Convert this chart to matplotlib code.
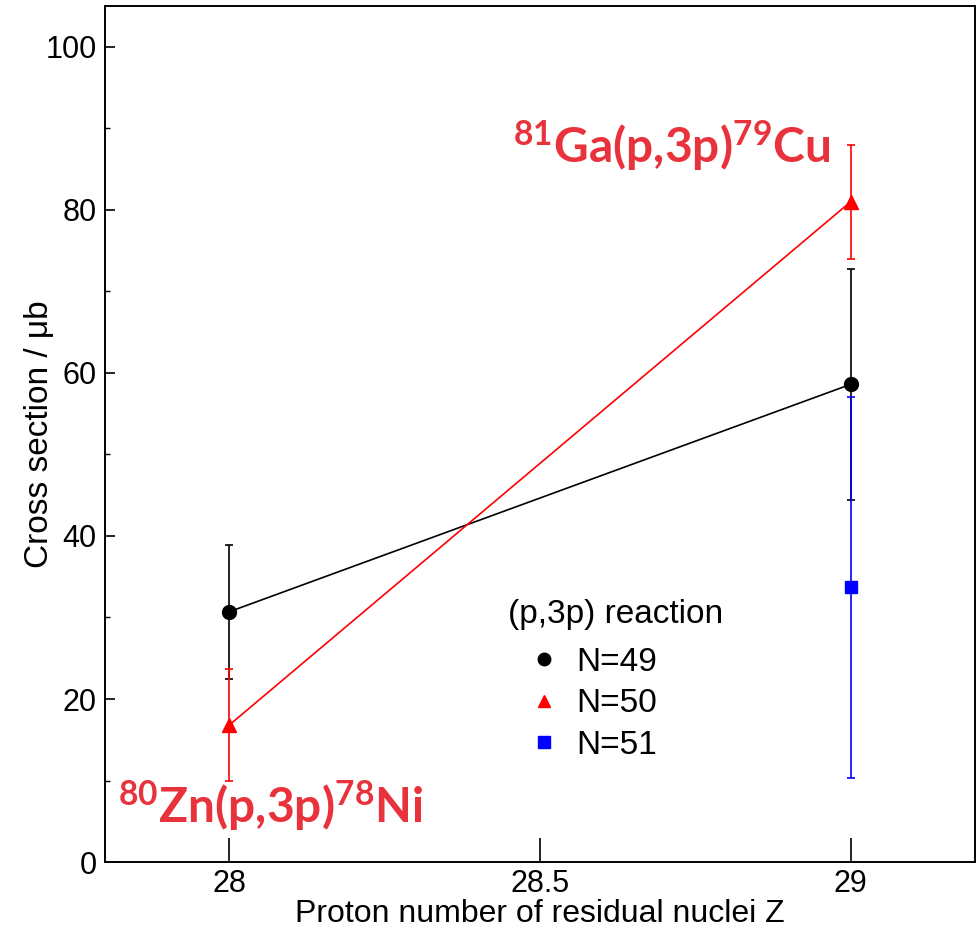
import matplotlib
matplotlib.use("Agg")
import matplotlib.pyplot as plt
from matplotlib.ticker import MultipleLocator

plt.rcParams['font.family'] = ['Liberation Sans', 'DejaVu Sans']
plt.rcParams['mathtext.fontset'] = 'custom'
plt.rcParams['mathtext.rm'] = 'Lato'
plt.rcParams['mathtext.bf'] = 'Lato:bold'

# residual proton number Z
z_n49 = [28, 29]
xs_n49 = [30.7, 58.6]
err_n49 = [8.2, 14.2]

z_n50 = [28, 29]
xs_n50 = [16.8, 81.0]
err_n50 = [6.9, 7.0]

z_n51 = [29]
xs_n51 = [33.7]
err_n51 = [23.4]

fig = plt.figure(figsize=(9.8, 9.32), dpi=100)
ax = fig.add_axes([0.107, 0.075, 0.888, 0.9186])

eb = dict(lw=1.2, elinewidth=1.2, capsize=3, capthick=1.2)
ax.errorbar(z_n49, xs_n49, yerr=err_n49, color='black', **eb)
ax.errorbar(z_n50, xs_n50, yerr=err_n50, color='red', **eb)
ax.errorbar(z_n51, xs_n51, yerr=err_n51, color='blue', **eb)

h49, = ax.plot(z_n49, xs_n49, 'o', color='black', ms=10, ls='none')
h50, = ax.plot(z_n50, xs_n50, '^', color='red', ms=10, ls='none')
h51, = ax.plot(z_n51, xs_n51, 's', color='blue', ms=9, ls='none')

ax.set_xlim(27.8, 29.2)
ax.set_ylim(0, 105)
ax.xaxis.set_major_locator(MultipleLocator(0.5))
ax.xaxis.set_major_formatter(plt.FuncFormatter(lambda v, p: '%g' % v))
ax.yaxis.set_major_locator(MultipleLocator(20))
ax.yaxis.set_minor_locator(MultipleLocator(10))
ax.tick_params(axis='both', which='both', direction='in', labelsize=22)
ax.tick_params(axis='y', which='major', length=7, width=1.2, pad=6)
ax.tick_params(axis='y', which='minor', length=3.5, width=1.0)
ax.tick_params(axis='x', which='major', length=17, width=1.2, pad=5)
for s in ax.spines.values():
    s.set_linewidth(1.4)

ax.set_xlabel('Proton number of residual nuclei Z', fontsize=23, labelpad=0)
ax.set_ylabel('Cross section / \u03bcb', fontsize=24, labelpad=-7)

leg = ax.legend([h49, h50, h51], ['N=49', 'N=50', 'N=51'], title='(p,3p) reaction',
                loc='upper left', bbox_to_anchor=(0.463, 0.307), frameon=False,
                fontsize=24, title_fontsize=24, markerscale=0.9,
                borderpad=0, borderaxespad=0, handlelength=2.2,
                handletextpad=-0.15, labelspacing=0.31)
leg._legend_box.align = 'left'
leg._legend_box.sep = 12

red = '#e8323c'
ax.text(28.457, 85.8, r'$\mathbf{^{81}}$Ga(p,3p)$\mathbf{^{79}}$Cu', color=red,
        fontsize=34.5, fontweight='bold', family=['Lato', 'DejaVu Sans'],
        va='baseline', ha='left')
ax.text(27.821, 4.8, r'$\mathbf{^{80}}$Zn(p,3p)$\mathbf{^{78}}$Ni', color=red,
        fontsize=34.5, fontweight='bold', family=['Lato', 'DejaVu Sans'],
        va='baseline', ha='left')

fig.savefig('out.png', dpi=100)
